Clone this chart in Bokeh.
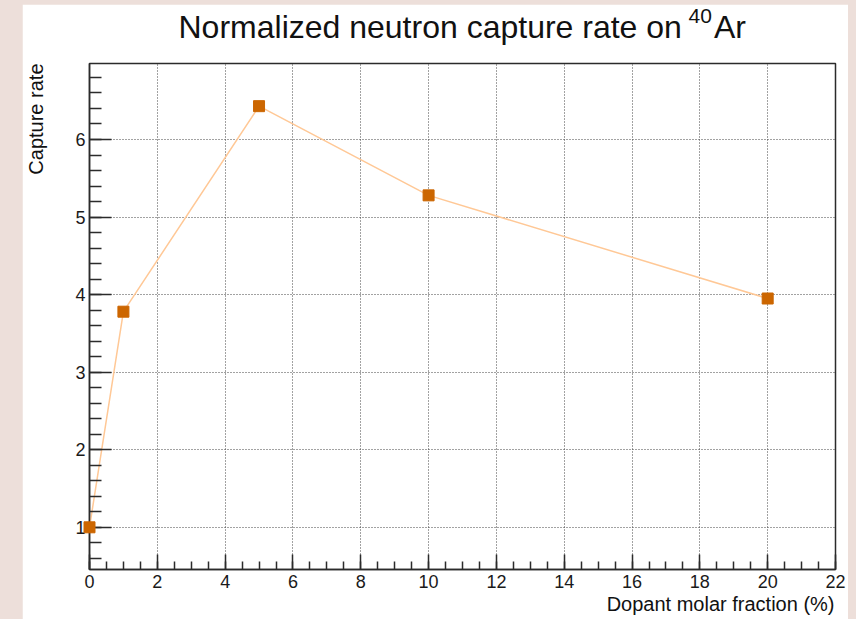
from bokeh.plotting import figure
from bokeh.models import Range1d, SingleIntervalTicker, Title
from bokeh.layouts import column
from bokeh.embed import file_html
from bokeh.resources import INLINE

# data
dopant_fraction = [0, 1, 5, 10, 20]
capture_rate = [1.0, 3.78, 6.43, 5.28, 3.95]

title_main = "Normalized neutron capture rate on\u2002\u2002Ar"
title_sup = "40"
x_title = "Dopant molar fraction (%)"
y_title = "Capture rate"

FONT = "Liberation Sans"
AXIS_COLOR = "#2b2b2b"
PINK = "#eddfda"

p = figure(width=826, height=615, output_backend="svg", toolbar_location=None,
           title=None,
           x_range=Range1d(0, 22), y_range=Range1d(0.456, 6.98),
           min_border_left=67, min_border_right=13, min_border_top=59, min_border_bottom=50)
p.margin = (4, 8, 0, 22)

p.border_fill_color = "white"
p.background_fill_color = "white"
p.outline_line_color = AXIS_COLOR
p.outline_line_width = 1.5

xt = SingleIntervalTicker(interval=2, num_minor_ticks=4)
yt = SingleIntervalTicker(interval=1, num_minor_ticks=5)
p.xaxis.ticker = xt
p.yaxis.ticker = yt
p.xgrid.ticker = xt
p.ygrid.ticker = yt

for ax in (p.xaxis[0], p.yaxis[0]):
    ax.axis_line_color = AXIS_COLOR
    ax.axis_line_width = 1.5
    ax.major_tick_line_color = AXIS_COLOR
    ax.major_tick_line_width = 1.5
    ax.minor_tick_line_color = AXIS_COLOR
    ax.minor_tick_line_width = 1.5
    ax.major_tick_out = 0
    ax.minor_tick_out = 0
    ax.major_label_text_font = FONT
    ax.major_label_text_font_size = "18px"
    ax.major_label_text_color = "#1a1a1a"

p.xaxis.major_tick_in = 15
p.xaxis.minor_tick_in = 8
p.yaxis.major_tick_in = 22
p.yaxis.minor_tick_in = 12
p.xaxis.major_label_standoff = 5
p.yaxis.major_label_standoff = 4

for g in (p.xgrid[0], p.ygrid[0]):
    g.grid_line_color = "#444444"
    g.grid_line_dash = "1 2"
    g.grid_line_width = 1

p.line(dopant_fraction, capture_rate, line_color="#ffc896", line_width=1.5)
pts = p.scatter(dopant_fraction, capture_rate, marker="square", size=11,
                fill_color="#cc6600", line_color="#cc6600")
pts.level = "overlay"

p.add_layout(Title(text=title_main, align="left", offset=89, vertical_align="top",
                   text_font=FONT, text_font_size="32px", text_font_style="normal",
                   text_color="#111111", standoff=-110), "above")
p.add_layout(Title(text=title_sup, align="left", offset=599, vertical_align="top",
                   text_font=FONT, text_font_size="21px", text_font_style="normal",
                   text_color="#111111", standoff=-109), "above")
p.add_layout(Title(text=y_title, align="right", vertical_align="top", text_font=FONT,
                   text_font_size="20px", text_font_style="normal",
                   text_color="#111111", standoff=-96), "left")
p.add_layout(Title(text=x_title, align="right", offset=1, text_font=FONT,
                   text_font_size="20px", text_font_style="normal",
                   text_color="#111111", standoff=0), "below")

layout = column(p, styles={"background-color": PINK})

open("out.html", "w").write(file_html(layout, INLINE))
